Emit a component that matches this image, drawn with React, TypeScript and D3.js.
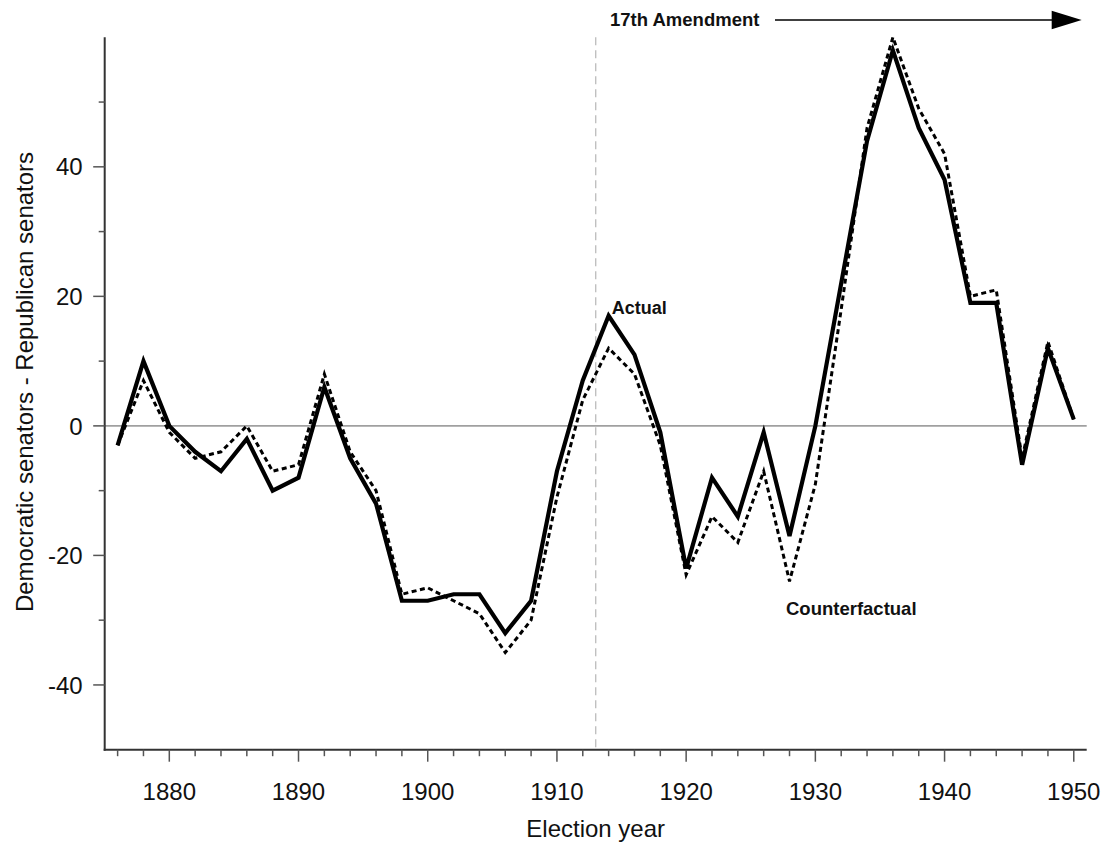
import React from "react";
import * as d3 from "d3";

const years = [1876,1878,1880,1882,1884,1886,1888,1890,1892,1894,1896,1898,1900,1902,1904,1906,1908,1910,1912,1914,1916,1918,1920,1922,1924,1926,1928,1930,1932,1934,1936,1938,1940,1942,1944,1946,1948,1950];
const actual = [-3,10,0,-4,-7,-2,-10,-8,6,-5,-12,-27,-27,-26,-26,-32,-27,-7,7,17,11,-1,-22,-8,-14,-1,-17,0,22,44,58,46,38,19,19,-6,12,1];
const counterfactual = [-3,7,-1,-5,-4,0,-7,-6,8,-4,-10,-26,-25,-27,-29,-35,-30,-11,4,12,8,-3,-23,-14,-18,-7,-24,-9,18,46,60,49,42,20,21,-5,13,1];
const xMajorTicks = [1880,1890,1900,1910,1920,1930,1940,1950];
const yMajorTicks = [-40,-20,0,20,40];
const yMinorTicks = [-30,-10,10,30,50];
const amendmentYear = 1913;

const W = 1105, H = 843;
const L = 104.7, R = 1086.7, T = 37.3, B = 749.7;

export default function App() {
  const x = d3.scaleLinear().domain([1875, 1951]).range([L, R]);
  const y = d3.scaleLinear().domain([-50, 60]).range([B, T]);
  const xMinor = d3.range(1876, 1951, 2).filter((v) => v % 10 !== 0);
  const line = d3.line<number>().x((_, i) => x(years[i])).y((d) => y(d));
  const font = "'Liberation Sans', Arial, sans-serif";

  return (
    <svg width={W} height={H} style={{ position: "absolute", left: 0, top: 0, background: "#fff" }} fontFamily={font}>
      {/* zero line */}
      <line x1={L} x2={R} y1={y(0)} y2={y(0)} stroke="#a0a0a0" strokeWidth={1.6} />
      {/* 17th amendment line */}
      <line x1={x(amendmentYear)} x2={x(amendmentYear)} y1={T} y2={B} stroke="#c0c0c0" strokeWidth={1.4} strokeDasharray="8,5" />
      {/* lines */}
      <path d={line(counterfactual) || ""} fill="none" stroke="#000" strokeWidth={3} strokeDasharray="5,3.5" strokeLinejoin="miter" />
      <path d={line(actual) || ""} fill="none" stroke="#000" strokeWidth={4.2} strokeLinejoin="miter" />
      {/* axes */}
      <line x1={L} x2={L} y1={T} y2={B + 1} stroke="#333" strokeWidth={2} />
      <line x1={L - 1} x2={R} y1={B} y2={B} stroke="#333" strokeWidth={2} />
      {yMajorTicks.map((t) => (
        <g key={"ym" + t}>
          <line x1={L - 11.5} x2={L} y1={y(t)} y2={y(t)} stroke="#555" strokeWidth={1.5} />
          <text x={L - 22} y={y(t)} dy="0.36em" textAnchor="end" fontSize={24} fill="#111">{t}</text>
        </g>
      ))}
      {yMinorTicks.map((t) => (
        <line key={"yn" + t} x1={L - 6} x2={L} y1={y(t)} y2={y(t)} stroke="#555" strokeWidth={1.5} />
      ))}
      {xMajorTicks.map((t) => (
        <g key={"xm" + t}>
          <line x1={x(t)} x2={x(t)} y1={B} y2={B + 12} stroke="#555" strokeWidth={1.5} />
          <text x={x(t)} y={800} textAnchor="middle" fontSize={24} fill="#111">{t}</text>
        </g>
      ))}
      {xMinor.map((t) => (
        <line key={"xn" + t} x1={x(t)} x2={x(t)} y1={B} y2={B + 6.5} stroke="#555" strokeWidth={1.5} />
      ))}
      {/* axis titles */}
      <text x={(L + R) / 2} y={837} textAnchor="middle" fontSize={24} fill="#111">Election year</text>
      <text transform={`translate(33,382) rotate(-90)`} textAnchor="middle" fontSize={24} fill="#111">Democratic senators - Republican senators</text>
      {/* annotations */}
      <text x={610} y={26} fontSize={18.5} fontWeight="bold" fill="#111">17th Amendment</text>
      <line x1={775} x2={1055} y1={20} y2={20} stroke="#000" strokeWidth={1.4} />
      <path d="M1051.7,10.7 L1081.7,20 L1051.7,29.3 Z" fill="#000" />
      <text x={611.7} y={314.3} fontSize={18} fontWeight="bold" fill="#111">Actual</text>
      <text x={786} y={615} fontSize={18.5} fontWeight="bold" fill="#111">Counterfactual</text>
    </svg>
  );
}
